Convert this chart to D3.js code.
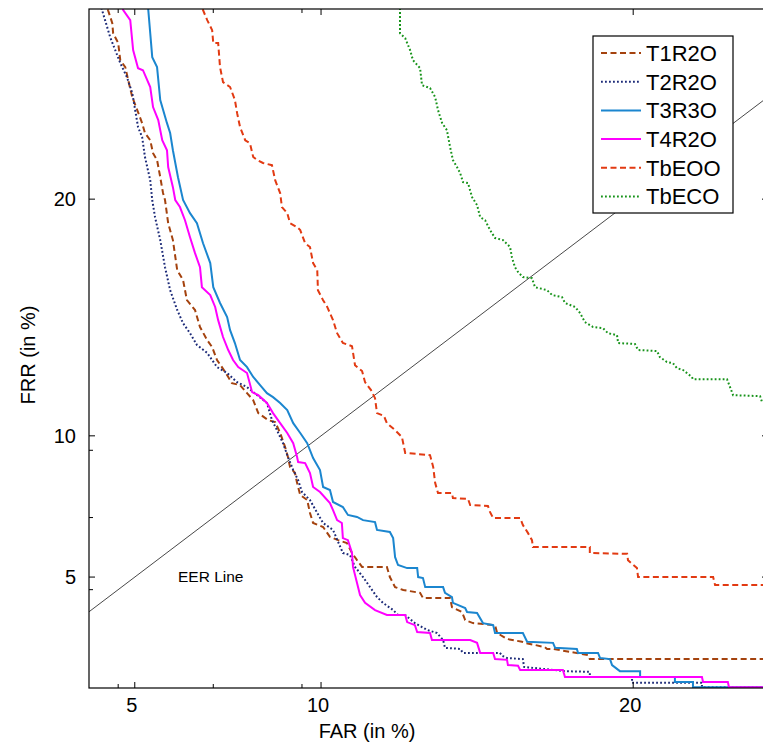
<!DOCTYPE html>
<html><head><meta charset="utf-8">
<script src="https://cdn.jsdelivr.net/npm/d3@7"></script>
<style>body{margin:0;background:#fff;} svg{display:block;font-family:"Liberation Sans",Arial,sans-serif;}</style>
</head><body><svg id="chart" width="763" height="747"></svg>
<script>
// ---- data (FAR %, FRR %) ----
const seriesNames = ["T1R2O","T2R2O","T3R3O","T4R2O","TbEOO","TbECO"];
const seriesColors = ["#A4420E","#1C2A78","#1B86CF","#FF00FF","#E23A12","#17931A"];
const seriesDash = ["6,3.5","1.8,2.2",null,null,"6,3.5","1.8,2.2"];

const T1R2O = [[4.31,29.60],[4.36,29.09],[4.46,28.44],[4.48,27.94],[4.60,27.45],[4.65,26.60],[4.77,26.26],[4.84,25.63],[4.94,24.80],[5.06,24.18],[5.18,23.55],[5.25,23.08],[5.38,22.74],[5.45,22.13],[5.55,21.81],[5.63,21.01],[5.70,20.28],[5.75,19.96],[5.83,18.91],[5.95,18.15],[6.06,16.82],[6.21,16.39],[6.31,15.52],[6.52,15.10],[6.65,14.38],[6.84,13.83],[6.97,13.54],[7.10,13.01],[7.23,12.72],[7.40,12.32],[7.50,12.07],[7.72,11.99],[7.91,11.67],[8.08,11.39],[8.22,10.88],[8.49,10.61],[8.69,10.53],[8.83,10.11],[8.97,9.57],[9.05,9.20],[9.11,8.82],[9.25,8.60],[9.31,8.24],[9.40,7.80],[9.60,7.62],[9.68,7.16],[9.77,6.81],[10.06,6.67],[10.26,6.33],[10.50,6.22],[10.76,6.12],[10.91,5.79],[11.06,5.55],[11.21,5.33],[11.96,5.33],[12.05,5.00],[12.21,4.68],[12.46,4.59],[12.98,4.50],[13.07,4.34],[13.92,4.34],[13.98,4.06],[14.30,3.91],[14.40,3.67],[14.65,3.58],[15.36,3.52],[15.43,3.29],[15.75,3.12],[16.24,3.04],[16.34,3.01],[17.00,2.89],[17.07,2.84],[17.27,2.84],[18.45,2.67],[18.51,2.56],[24.88,2.56]];

const T2R2O = [[4.15,29.60],[4.22,29.09],[4.29,28.59],[4.41,27.74],[4.53,27.10],[4.65,26.46],[4.81,25.77],[4.94,24.99],[5.01,24.18],[5.08,23.36],[5.18,22.89],[5.25,21.95],[5.38,20.87],[5.43,19.96],[5.50,19.18],[5.63,18.15],[5.75,16.95],[5.88,15.95],[6.06,15.10],[6.21,14.54],[6.39,14.12],[6.57,13.63],[6.84,13.30],[7.10,12.72],[7.37,12.48],[7.64,12.11],[7.91,11.91],[8.19,11.59],[8.46,11.28],[8.60,10.61],[8.74,10.22],[8.91,9.72],[9.05,9.20],[9.20,8.71],[9.34,8.34],[9.45,7.91],[9.68,7.62],[9.89,7.16],[10.06,6.81],[10.35,6.57],[10.50,6.16],[10.64,5.79],[10.85,5.72],[11.00,5.33],[11.24,5.00],[11.45,4.68],[11.66,4.37],[11.84,4.19],[12.15,3.97],[12.30,3.82],[12.52,3.82],[12.82,3.58],[13.20,3.38],[13.51,3.29],[13.70,3.09],[13.76,2.87],[14.24,2.84],[14.33,2.73],[15.52,2.73],[15.59,2.65],[15.75,2.59],[16.27,2.56],[16.31,2.35],[17.67,2.24],[18.51,2.22],[18.51,2.09],[19.96,2.09],[19.96,1.94],[22.42,1.94],[22.42,1.83],[24.88,1.83]];

const T3R3O = [[5.30,29.60],[5.33,29.14],[5.38,27.94],[5.43,26.75],[5.55,26.26],[5.63,24.66],[5.80,23.55],[5.88,23.08],[5.95,22.27],[6.08,21.01],[6.21,19.96],[6.39,19.36],[6.57,18.91],[6.73,18.01],[6.92,17.13],[7.00,16.08],[7.18,15.40],[7.37,14.80],[7.45,14.25],[7.58,13.71],[7.72,13.01],[7.91,12.72],[8.08,12.32],[8.27,11.99],[8.46,11.67],[8.63,11.51],[8.83,11.28],[9.03,11.00],[9.20,10.49],[9.40,10.11],[9.60,9.72],[9.77,9.16],[9.97,8.71],[10.06,8.09],[10.26,7.98],[10.35,7.55],[10.64,7.37],[10.79,7.09],[11.06,7.02],[11.24,6.91],[11.60,6.84],[11.66,6.57],[12.05,6.50],[12.15,6.29],[12.21,5.65],[12.30,5.39],[12.58,5.29],[12.89,5.29],[12.92,5.00],[13.07,4.97],[13.14,4.68],[13.70,4.68],[13.76,4.50],[13.98,4.37],[14.01,4.19],[14.40,4.03],[14.46,3.91],[14.78,3.88],[14.97,3.58],[15.30,3.52],[15.36,3.29],[16.27,3.29],[16.41,3.04],[17.27,3.01],[17.34,2.87],[18.07,2.84],[18.11,2.73],[18.79,2.73],[18.86,2.59],[19.20,2.56],[19.27,2.40],[19.54,2.24],[20.24,2.24],[20.24,2.09],[21.46,2.09],[21.46,1.96],[22.10,1.96],[22.10,1.83],[24.88,1.83]];

const T4R2O = [[4.67,29.60],[4.72,29.09],[4.89,28.59],[4.96,27.10],[5.08,26.21],[5.20,26.11],[5.38,25.29],[5.45,24.32],[5.58,23.70],[5.68,22.74],[5.80,22.27],[5.83,21.48],[5.95,20.55],[6.01,19.96],[6.13,19.64],[6.26,19.04],[6.39,18.28],[6.52,17.57],[6.65,16.95],[6.70,16.08],[6.92,15.74],[7.05,15.23],[7.13,14.67],[7.26,13.96],[7.40,13.42],[7.53,13.01],[7.67,12.72],[7.91,12.48],[8.05,11.71],[8.22,11.59],[8.46,11.28],[8.63,10.88],[8.83,10.49],[9.03,10.11],[9.20,9.72],[9.31,9.20],[9.34,9.01],[9.54,8.97],[9.68,8.60],[9.77,8.09],[9.97,7.91],[10.26,7.51],[10.35,7.26],[10.47,6.91],[10.61,6.81],[10.64,6.29],[10.79,6.22],[10.91,5.79],[10.94,5.33],[11.06,4.81],[11.15,4.43],[11.30,4.19],[11.60,3.97],[11.96,3.82],[12.52,3.82],[12.58,3.61],[12.82,3.52],[12.89,3.32],[13.29,3.29],[13.35,3.09],[14.56,3.09],[14.78,3.01],[14.88,2.73],[15.30,2.73],[15.36,2.56],[15.75,2.54],[15.78,2.40],[16.11,2.38],[16.18,2.27],[17.60,2.27],[17.67,2.09],[22.42,2.09],[22.46,1.96],[23.35,1.96],[23.39,1.83],[24.88,1.83]];

const TbEOO = [[6.65,29.60],[6.73,29.09],[6.84,28.59],[6.97,28.09],[7.00,27.45],[7.13,27.45],[7.18,26.26],[7.26,25.53],[7.45,25.29],[7.58,24.66],[7.64,24.03],[7.72,23.36],[7.86,22.74],[7.99,22.60],[8.08,21.95],[8.19,21.81],[8.35,21.67],[8.60,21.57],[8.69,20.87],[8.83,20.28],[8.88,19.64],[9.03,19.36],[9.11,18.91],[9.31,18.73],[9.40,18.60],[9.54,18.01],[9.68,17.84],[9.77,17.13],[9.89,16.82],[9.91,15.95],[10.06,15.52],[10.18,15.23],[10.35,14.67],[10.47,14.12],[10.64,13.71],[10.91,13.58],[11.00,12.80],[11.21,12.56],[11.30,12.11],[11.48,11.79],[11.60,11.47],[11.66,10.88],[11.87,10.77],[11.96,10.49],[12.21,10.22],[12.42,9.95],[12.52,9.35],[13.29,9.27],[13.39,8.82],[13.45,8.24],[13.54,7.87],[13.98,7.87],[14.01,7.69],[14.49,7.66],[14.56,7.44],[15.13,7.41],[15.20,7.19],[15.30,6.98],[16.18,6.98],[16.27,6.74],[16.44,6.46],[16.57,6.22],[16.60,5.99],[18.51,5.99],[18.51,5.79],[19.79,5.76],[19.82,5.55],[20.13,5.29],[20.17,5.00],[22.82,5.00],[22.89,4.75],[24.88,4.75]];

const TbECO = [[12.36,29.60],[12.36,27.94],[12.52,27.69],[12.67,27.10],[12.76,26.60],[12.98,26.21],[13.04,25.38],[13.29,25.24],[13.45,24.80],[13.54,24.18],[13.67,23.55],[13.82,23.22],[13.92,22.42],[14.01,21.81],[14.14,21.48],[14.24,21.20],[14.33,20.78],[14.49,20.74],[14.62,20.09],[14.78,19.73],[14.88,19.18],[15.04,19.04],[15.20,18.60],[15.36,18.24],[15.62,18.15],[15.85,17.84],[15.91,17.39],[16.01,16.95],[16.11,16.74],[16.27,16.52],[16.57,16.47],[16.67,16.08],[17.07,15.95],[17.24,15.74],[17.57,15.65],[17.67,15.40],[18.01,15.23],[18.18,14.97],[18.34,14.59],[18.62,14.38],[18.96,14.33],[19.13,14.12],[19.44,14.04],[19.48,13.71],[20.06,13.67],[20.17,13.42],[20.83,13.38],[20.93,13.13],[21.18,12.93],[21.39,12.88],[21.53,12.68],[21.75,12.60],[22.06,12.32],[22.10,12.23],[23.32,12.23],[23.43,11.91],[23.54,11.59],[24.52,11.55],[24.59,11.32],[24.88,11.32]];

const seriesData = [T1R2O, T2R2O, T3R3O, T4R2O, TbEOO, TbECO];
const drawOrder = [5, 4, 0, 1, 2, 3];

const majorTicks = [5, 10, 20];
const minorTicks = [4.6, 7, 9.45];
const xDomain = [3.918, 24.81];
const yDomain = [1.81, 29.15];
const eerLine = [[1, 1], [40, 40]];
const xTitle = "FAR (in %)", yTitle = "FRR (in %)", eerLabel = "EER Line";

// ---- drawing ----
const svg = d3.select("#chart");
const L = 89, R = 768, T = 9, B = 688;
const x = d3.scalePow().exponent(0.745).domain(xDomain).range([L, R]);
const y = d3.scalePow().exponent(0.745).domain(yDomain).range([B, T]);

svg.append("defs").append("clipPath").attr("id","clip")
  .append("rect").attr("x",L).attr("y",T).attr("width",R-L).attr("height",B-T);

const plot = svg.append("g").attr("clip-path","url(#clip)");
const line = d3.line().x(d => x(d[0])).y(d => y(d[1]));

plot.append("path").datum(eerLine).attr("d", line)
  .attr("fill","none").attr("stroke","#333").attr("stroke-width",0.9);

drawOrder.forEach(i => {
  plot.append("path").datum(seriesData[i]).attr("d", line)
    .attr("fill","none").attr("stroke", seriesColors[i])
    .attr("stroke-width", 2).attr("stroke-linejoin","miter")
    .attr("stroke-dasharray", seriesDash[i]);
});

// frame
svg.append("rect").attr("x",L).attr("y",T).attr("width",R-L).attr("height",B-T)
  .attr("fill","none").attr("stroke","#000").attr("stroke-width",1.2);

// ticks
const tk = svg.append("g").attr("stroke","#000").attr("stroke-width",1);
function xt(v, len){
  tk.append("line").attr("x1",x(v)).attr("x2",x(v)).attr("y1",B).attr("y2",B-len);
  tk.append("line").attr("x1",x(v)).attr("x2",x(v)).attr("y1",T).attr("y2",T+len);
}
function yt(v, len){
  tk.append("line").attr("y1",y(v)).attr("y2",y(v)).attr("x1",L).attr("x2",L+len);
  tk.append("line").attr("y1",y(v)).attr("y2",y(v)).attr("x1",R).attr("x2",R-len);
}
majorTicks.forEach(v => { xt(v, 6); yt(v, 6); });
minorTicks.forEach(v => { xt(v, 4); yt(v, 4); });

// tick labels
svg.append("g").selectAll("text").data(majorTicks).join("text")
  .attr("x", d => x(d) - 3).attr("y", 712).attr("text-anchor","middle")
  .attr("font-size", 20).text(d => d);
svg.append("g").selectAll("text").data(majorTicks).join("text")
  .attr("x", 76).attr("y", d => y(d) + 7).attr("text-anchor","end")
  .attr("font-size", 20).text(d => d);

// axis titles
svg.append("text").attr("x", 367).attr("y", 738).attr("text-anchor","middle")
  .attr("font-size", 20).text(xTitle);
svg.append("text").attr("transform","translate(35,355) rotate(-90)")
  .attr("text-anchor","middle").attr("font-size", 20).text(yTitle);

// EER label
svg.append("text").attr("x", 178).attr("y", 582).attr("font-size", 15.5).text(eerLabel);

// legend
const lg = svg.append("g");
lg.append("rect").attr("x",593).attr("y",36).attr("width",140).attr("height",177)
  .attr("fill","#fff").attr("stroke","#000").attr("stroke-width",1.2);
seriesNames.forEach((n, i) => {
  const yy = 53 + i * 28.7;
  lg.append("line").attr("x1",601).attr("x2",641).attr("y1",yy).attr("y2",yy)
    .attr("stroke", seriesColors[i]).attr("stroke-width",2)
    .attr("stroke-dasharray", seriesDash[i]);
  lg.append("text").attr("x",646).attr("y",yy).attr("dy","0.36em")
    .attr("font-size",22).text(n);
});
</script></body></html>
